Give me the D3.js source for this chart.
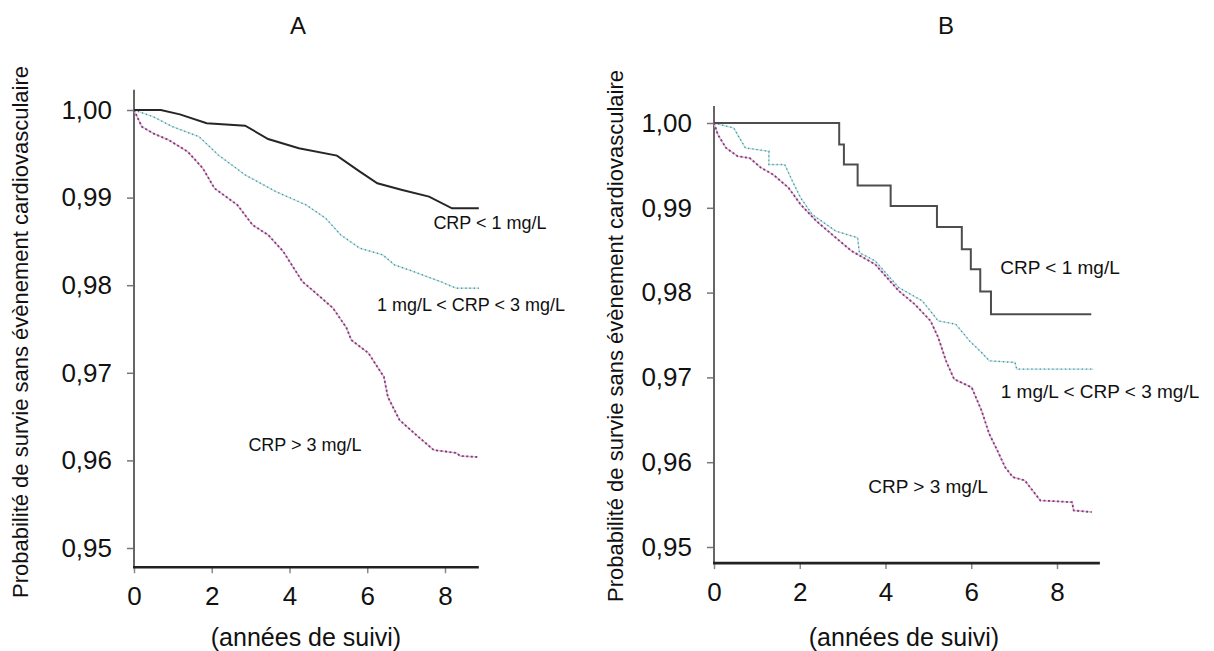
<!DOCTYPE html>
<html>
<head>
<meta charset="utf-8">
<script src="https://cdn.jsdelivr.net/npm/d3@7"></script>
<style>
  body { margin: 0; background: #fff; }
  text { font-family: "Liberation Sans", Arial, sans-serif; fill: #111; }
</style>
</head>
<body>
<div id="chart"></div>
<script>
// tick values / labels
const yTicks = [0.95, 0.96, 0.97, 0.98, 0.99, 1.00];
const xTicks = [0, 2, 4, 6, 8];
const yTitle = "Probabilité de survie sans évènement cardiovasculaire";
const xTitle = "(années de suivi)";

// Panel A: [years, survival]
const aLow = [[0,1.0],[0.69,1.0],[1.18,0.9995],[1.87,0.99848],[2.86,0.99821],[3.45,0.99669],
  [4.24,0.99563],[5.22,0.99479],[5.81,0.99297],[6.26,0.99163],[6.90,0.99087],[7.59,0.99011],
  [8.18,0.98878],[8.87,0.98878]];
const aMid = [[0,1.0],[0.49,0.99924],[0.99,0.9981],[1.67,0.99696],[2.17,0.99487],[2.86,0.99259],
  [3.65,0.99068],[4.43,0.98916],[4.93,0.98764],[5.32,0.98574],[5.81,0.98422],[6.40,0.98346],
  [6.70,0.98232],[7.19,0.98156],[7.88,0.98042],[8.28,0.97966],[8.87,0.97966]];
const aHigh = [[0,1.0],[0.2,0.9981],[0.49,0.99734],[0.89,0.99658],[1.38,0.99525],[1.77,0.99335],
  [2.07,0.99106],[2.66,0.98916],[3.05,0.98688],[3.45,0.98574],[3.84,0.98384],[4.33,0.98042],
  [4.73,0.9789],[5.12,0.97738],[5.47,0.9751],[5.59,0.97374],[6.03,0.97226],[6.43,0.96952],
  [6.53,0.96724],[6.83,0.96461],[7.32,0.96267],[7.71,0.96119],[8.30,0.96084],[8.39,0.9605],
  [8.83,0.96039]];

// Panel B
const bLow = [[0,1.0],[2.92,0.99745],[3.03,0.9951],[3.35,0.99263],[4.12,0.9902],[5.2,0.98773],
  [5.78,0.9851],[5.99,0.98275],[6.21,0.98012],[6.46,0.97745],[8.8,0.97745]];
const bMid = [[0,1.0],[0.46,0.99941],[0.55,0.99863],[0.73,0.99706],[1.28,0.99667],[1.28,0.9951],
  [1.65,0.9951],[1.83,0.99314],[2.02,0.99118],[2.29,0.98922],[2.84,0.98725],[3.35,0.98647],
  [3.39,0.98471],[3.76,0.98373],[4.31,0.98059],[4.86,0.97902],[5.23,0.97667],[5.64,0.97627],
  [5.96,0.97431],[6.24,0.97294],[6.42,0.97196],[7.02,0.97176],[7.06,0.97098],[8.85,0.97098]];
const bHigh = [[0,1.0],[0.09,0.99863],[0.28,0.99706],[0.55,0.99608],[0.83,0.99588],[1.10,0.99471],
  [1.38,0.99392],[1.74,0.99235],[2.02,0.99039],[2.39,0.98843],[2.75,0.98686],[3.21,0.9849],
  [3.76,0.98333],[4.31,0.9802],[4.68,0.97863],[5.05,0.97667],[5.23,0.97471],[5.41,0.97196],
  [5.60,0.9698],[6.01,0.96882],[6.24,0.96608],[6.42,0.96333],[6.61,0.96137],[6.79,0.95941],
  [6.97,0.95824],[7.25,0.95784],[7.43,0.95667],[7.61,0.95549],[8.35,0.95529],[8.39,0.95431],
  [8.81,0.95412]];

const labelsA = ["CRP < 1 mg/L", "1 mg/L < CRP < 3 mg/L", "CRP > 3 mg/L"];
const labelsB = ["CRP < 1 mg/L", "1 mg/L < CRP < 3 mg/L", "CRP > 3 mg/L"];

const svg = d3.select("#chart").append("svg")
  .attr("width", 1214)
  .attr("height", 651);

const fmt = d => d3.format(".2f")(d).replace(".", ",");

function panel(cfg) {
  const x = d3.scaleLinear().domain([0, 8]).range(cfg.xRange);
  const y = d3.scaleLinear().domain([0.95, 1.00]).range(cfg.yRange);
  const g = svg.append("g");

  // title
  g.append("text")
    .attr("x", cfg.titleX).attr("y", 25)
    .attr("text-anchor", "middle").attr("dominant-baseline", "central")
    .style("font-size", "24px")
    .text(cfg.title);

  // y axis
  const yAxis = g.append("g")
    .attr("transform", `translate(${x(0)},0)`)
    .call(d3.axisLeft(y).tickValues(yTicks).tickFormat(fmt).tickSize(7).tickPadding(15));
  yAxis.select(".domain").remove();
  yAxis.selectAll(".tick line").attr("stroke", "#777").attr("stroke-width", 1.5);
  yAxis.selectAll("text").style("font-size", "26px").attr("fill", "#111");
  g.append("line")
    .attr("x1", x(0)).attr("x2", x(0))
    .attr("y1", y(cfg.yTop)).attr("y2", y(cfg.yBottom))
    .attr("stroke", "#666").attr("stroke-width", 2);

  // x axis
  const xAxis = g.append("g")
    .attr("transform", `translate(0,${y(cfg.yBottom)})`)
    .call(d3.axisBottom(x).tickValues(xTicks).tickSize(6).tickPadding(13));
  xAxis.select(".domain").remove();
  xAxis.selectAll(".tick line").attr("stroke", "#888").attr("stroke-width", 1.5);
  xAxis.selectAll("text").style("font-size", "26px").attr("fill", "#111");
  g.append("line")
    .attr("x1", x(0) - 1).attr("x2", x(cfg.xEnd))
    .attr("y1", y(cfg.yBottom)).attr("y2", y(cfg.yBottom))
    .attr("stroke", "#222").attr("stroke-width", 2.6);

  // axis titles
  g.append("text")
    .attr("transform", `translate(${cfg.yTitleX},${cfg.yTitleY}) rotate(-90)`)
    .attr("text-anchor", "middle").attr("dominant-baseline", "central")
    .style("font-size", "22px")
    .text(yTitle);
  g.append("text")
    .attr("x", cfg.xTitleX).attr("y", 637)
    .attr("text-anchor", "middle").attr("dominant-baseline", "central")
    .style("font-size", "25px")
    .text(xTitle);

  const line = d3.line().x(d => x(d[0])).y(d => y(d[1]));
  const stepLine = d3.line().x(d => x(d[0])).y(d => y(d[1])).curve(d3.curveStepAfter);

  // CRP > 3 : pink line with dark purple dashes
  g.append("path").datum(cfg.high).attr("d", line)
    .attr("fill", "none").attr("stroke", "#f0b4e2").attr("stroke-width", 1.6);
  g.append("path").datum(cfg.high).attr("d", line)
    .attr("fill", "none").attr("stroke", "#72446f").attr("stroke-width", 1.8)
    .attr("stroke-dasharray", "2,2.5");

  // 1-3 : pale cyan line with dark dots
  g.append("path").datum(cfg.mid).attr("d", line)
    .attr("fill", "none").attr("stroke", "#b4e4e6").attr("stroke-width", 1.3);
  g.append("path").datum(cfg.mid).attr("d", line)
    .attr("fill", "none").attr("stroke", "#5a8a90").attr("stroke-width", 1.4)
    .attr("stroke-dasharray", "1.2,3");

  // CRP < 1 : solid dark
  g.append("path").datum(cfg.low).attr("d", cfg.lowStep ? stepLine : line)
    .attr("fill", "none").attr("stroke", cfg.lowColor).attr("stroke-width", cfg.lowWidth);

  // curve labels
  cfg.labels.forEach((t, i) => {
    g.append("text")
      .attr("x", cfg.labelPos[i][0]).attr("y", cfg.labelPos[i][1])
      .attr("text-anchor", "middle").attr("dominant-baseline", "central")
      .style("font-size", cfg.labelSize)
      .text(t);
  });
}

panel({
  title: "A", titleX: 298,
  xRange: [134, 445], yRange: [548, 110],
  yTop: 1.0023, yBottom: 0.9478, xEnd: 8.87,
  yTitleX: 20, yTitleY: 332, xTitleX: 306,
  low: aLow, mid: aMid, high: aHigh,
  lowStep: false, lowColor: "#262626", lowWidth: 2,
  labels: labelsA, labelSize: "18px",
  labelPos: [[490, 223], [471, 305], [305, 445]]
});

panel({
  title: "B", titleX: 946,
  xRange: [714, 1057], yRange: [547, 123],
  yTop: 1.002, yBottom: 0.9481, xEnd: 9.0,
  yTitleX: 615, yTitleY: 336, xTitleX: 904,
  low: bLow, mid: bMid, high: bHigh,
  lowStep: true, lowColor: "#4d4d4d", lowWidth: 2,
  labels: labelsB, labelSize: "19px",
  labelPos: [[1060, 267], [1100, 391], [928, 486]]
});
</script>
</body>
</html>
